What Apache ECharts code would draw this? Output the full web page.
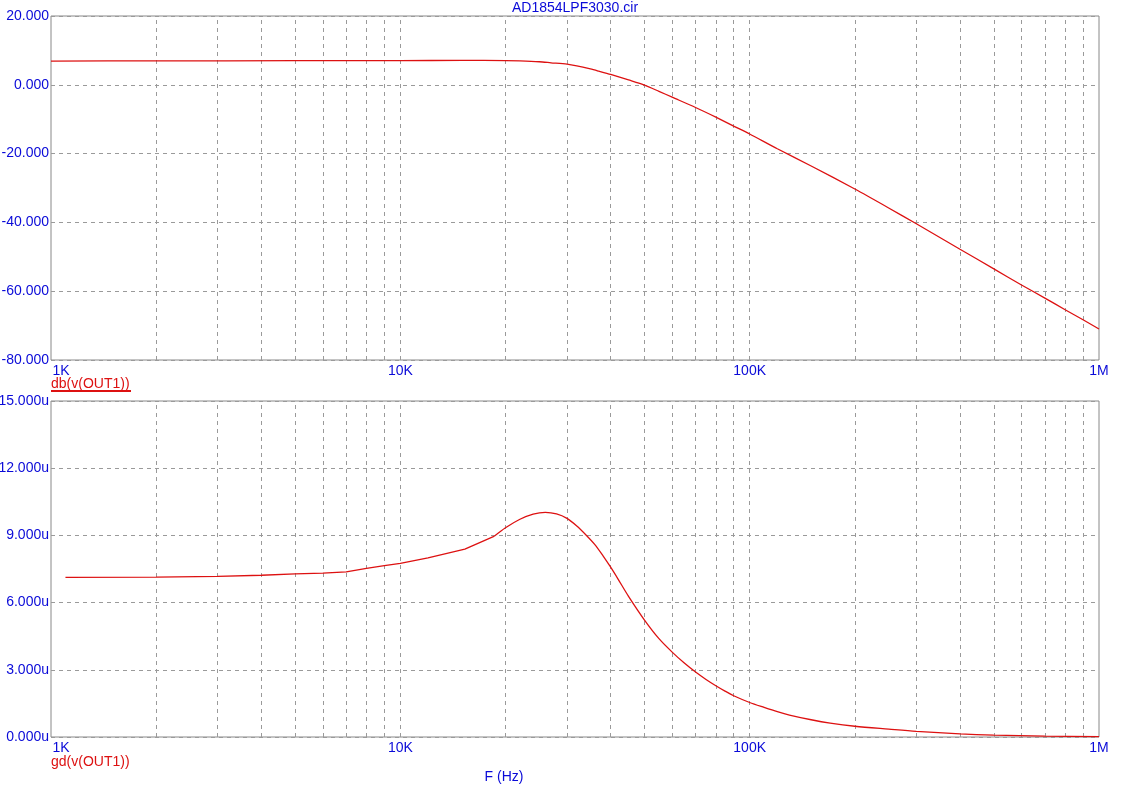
<!DOCTYPE html>
<html>
<head>
<meta charset="utf-8">
<script src="https://cdn.jsdelivr.net/npm/echarts@6/dist/echarts.min.js"></script>
<style>html,body{margin:0;padding:0;background:#fff}#c{width:1126px;height:792px}</style>
</head>
<body>
<div id="c"></div>
<script>
// Top plot: magnitude (dB) vs frequency (Hz)
const dbFreq = [1000,2000,5000,10000,15000,20000,22000,25000,27000,30000,32000,35000,37000,40000,45000,50000,55000,60000,70000,80000,90000,100000,120000,150000,200000,250000,300000,400000,500000,600000,700000,800000,900000,1000000];
const dbVals = [6.9,6.95,7.0,7.05,7.08,7.05,6.95,6.7,6.4,6.0,5.5,4.6,3.95,3.0,1.4,-0.1,-1.9,-3.6,-6.6,-9.4,-12.0,-14.3,-18.6,-23.6,-30.3,-35.8,-40.4,-47.8,-53.5,-58.2,-62.0,-65.4,-68.3,-71.0];
// Bottom plot: group delay (microseconds) vs frequency (Hz)
const gdFreq = [1100,2000,3000,4000,5000,6000,7000,8000,9000,10000,12000,15300,18600,20000,22000,24000,26000,28000,30000,32000,34000,36000,38000,40000,42000,45000,50000,55000,60000,65000,70000,75000,80000,85000,90000,100000,110000,120000,130000,150000,170000,200000,250000,300000,400000,500000,700000,1000000];
const gdVals = [7.13,7.14,7.17,7.22,7.28,7.32,7.37,7.53,7.65,7.75,8.0,8.39,8.97,9.34,9.72,9.95,10.03,9.96,9.76,9.42,9.02,8.6,8.1,7.58,7.05,6.28,5.22,4.39,3.79,3.30,2.90,2.57,2.29,2.05,1.84,1.54,1.32,1.13,0.98,0.77,0.62,0.48,0.35,0.25,0.14,0.085,0.04,0.02];
// Tick labels
const freqTickLabels = {1000:'1K',10000:'10K',100000:'100K',1000000:'1M'};
const topTitle = 'AD1854LPF3030.cir';
const topTrace = 'db(v(OUT1))';
const bottomTrace = 'gd(v(OUT1))';
const xName = 'F (Hz)';

const gridFreqs = [];
[1000,10000,100000].forEach(d => { for (let k = 1; k <= 9; k++) { const f = d * k; if (f > 1000) gridFreqs.push(f); } });

const BLUE = '#0a0ad8';
const RED = '#dd1111';
const GRIDC = '#9a9a9a';
const FONT = 'Liberation Sans, Arial, sans-serif';

function xAxisCfg(gi) {
  return {
    type: 'log', logBase: 10, min: 1000, max: 1000000, gridIndex: gi,
    axisLine: {show: false}, axisTick: {show: false}, splitLine: {show: false},
    axisLabel: {
      color: BLUE, fontSize: 14, fontFamily: FONT, margin: 4,
      formatter: v => {
        const t = freqTickLabels[Math.round(v)] || '';
        return Math.round(v) === 1000 ? '{l|' + t + '}' : t;
      },
      rich: {l: {color: BLUE, fontSize: 14, fontFamily: FONT, padding: [0, 0, 0, 20]}}
    }
  };
}
function gridLinesSeries(gi) {
  return {
    type: 'line', xAxisIndex: gi, yAxisIndex: gi, data: [], z: 1, silent: true,
    markLine: {
      silent: true, symbol: ['none','none'], animation: false,
      label: {show: false},
      lineStyle: {type: [4,4], color: GRIDC, width: 1},
      emphasis: {disabled: true},
      data: gridFreqs.map(f => ({xAxis: f}))
    }
  };
}

// split the group-delay trace at the 18.6K kink: left part piecewise, right part smooth
const splitIdx = gdFreq.indexOf(18600);
const gdPts = gdFreq.map((f, i) => [f, gdVals[i]]);

const chart = echarts.init(document.getElementById('c'), null, {renderer: 'canvas'});
chart.setOption({
  animation: false,
  backgroundColor: '#fff',
  grid: [
    {left: 51, top: 16, width: 1048, height: 344, show: true, borderColor: '#888', borderWidth: 1, backgroundColor: 'transparent', containLabel: false, outerBoundsMode: 'none'},
    {left: 51, top: 401, width: 1048, height: 336, show: true, borderColor: '#888', borderWidth: 1, backgroundColor: 'transparent', containLabel: false, outerBoundsMode: 'none'}
  ],
  xAxis: [xAxisCfg(0), xAxisCfg(1)],
  yAxis: [
    {type: 'value', gridIndex: 0, min: -80, max: 20, interval: 20,
     axisLine: {show: false}, axisTick: {show: false},
     splitLine: {show: true, lineStyle: {type: [4,4], color: GRIDC}},
     axisLabel: {color: BLUE, fontSize: 14, fontFamily: FONT, margin: 2, formatter: v => v.toFixed(3)}},
    {type: 'value', gridIndex: 1, min: 0, max: 15, interval: 3,
     axisLine: {show: false}, axisTick: {show: false},
     splitLine: {show: true, lineStyle: {type: [4,4], color: GRIDC}},
     axisLabel: {color: BLUE, fontSize: 14, fontFamily: FONT, margin: 2, formatter: v => v.toFixed(3) + 'u'}}
  ],
  series: [
    gridLinesSeries(0),
    gridLinesSeries(1),
    {type: 'line', name: topTrace, xAxisIndex: 0, yAxisIndex: 0, z: 5, symbol: 'none', smooth: 0.25,
     lineStyle: {color: RED, width: 1.3}, data: dbFreq.map((f, i) => [f, dbVals[i]])},
    {type: 'line', name: bottomTrace, xAxisIndex: 1, yAxisIndex: 1, z: 5, symbol: 'none', smooth: false,
     lineStyle: {color: RED, width: 1.3}, data: gdPts.slice(0, splitIdx + 1)},
    {type: 'line', name: bottomTrace + ' ', xAxisIndex: 1, yAxisIndex: 1, z: 5, symbol: 'none', smooth: 0.3,
     lineStyle: {color: RED, width: 1.3}, data: gdPts.slice(splitIdx)}
  ],
  graphic: [
    {type: 'text', style: {text: topTitle, x: 575, y: 8, align: 'center', verticalAlign: 'middle', fill: BLUE, font: '14px ' + FONT}},
    {type: 'text', style: {text: topTrace, x: 51, y: 384, align: 'left', verticalAlign: 'middle', fill: RED, font: '14px ' + FONT}},
    {type: 'rect', shape: {x: 51, y: 390, width: 80, height: 2}, style: {fill: RED}},
    {type: 'text', style: {text: bottomTrace, x: 51, y: 762, align: 'left', verticalAlign: 'middle', fill: RED, font: '14px ' + FONT}},
    {type: 'text', style: {text: xName, x: 504, y: 777, align: 'center', verticalAlign: 'middle', fill: BLUE, font: '14px ' + FONT}}
  ]
});
</script>
</body>
</html>
